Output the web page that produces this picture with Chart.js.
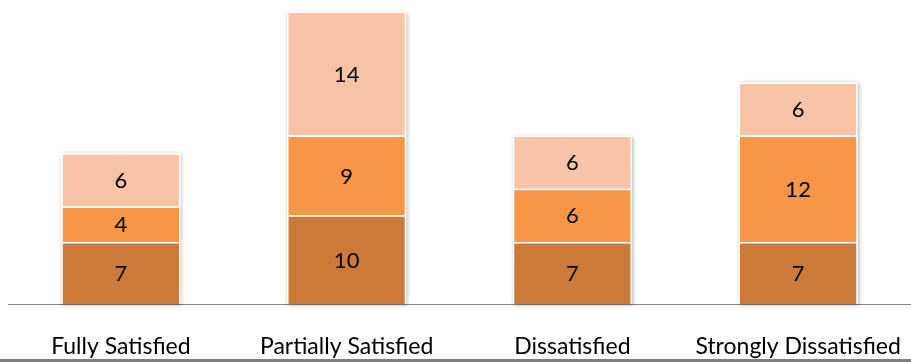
<!DOCTYPE html>
<html>
<head>
<meta charset="utf-8">
<script src="https://cdn.jsdelivr.net/npm/chart.js@4"></script>
<style>
  body { margin: 0; background: #fff; }
  #wrap { width: 911px; height: 359px; border-bottom: 3px solid #7f7f7f; }
</style>
</head>
<body>
<div id="wrap"><canvas id="stackChart" width="911" height="359"></canvas></div>
<script>
var categories = ['Fully Satisfied', 'Partially Satisfied', 'Dissatisfied', 'Strongly Dissatisfied'];
var lowerValues = [7, 10, 7, 7];
var middleValues = [4, 9, 6, 12];
var upperValues = [6, 14, 6, 6];

// white backing with soft shadow behind each full stack
var stackShadow = {
    id: 'stackShadow',
    beforeDatasetsDraw: function (chart) {
        var ctx = chart.ctx;
        var first = chart.getDatasetMeta(0).data;
        var last = chart.getDatasetMeta(chart.data.datasets.length - 1).data;
        ctx.save();
        ctx.fillStyle = '#fff';
        ctx.shadowColor = 'rgba(0,0,0,0.3)';
        ctx.shadowBlur = 4;
        ctx.shadowOffsetX = 1;
        ctx.shadowOffsetY = 1;
        first.forEach(function (bar, i) {
            var top = last[i];
            var w = bar.width;
            ctx.fillRect(bar.x - w / 2, top.y, w, bar.base - top.y);
        });
        ctx.restore();
    }
};

// value text in the middle of each segment
var segmentLabels = {
    id: 'segmentLabels',
    afterDatasetsDraw: function (chart) {
        var ctx = chart.ctx;
        ctx.save();
        ctx.font = '22px Lato';
        ctx.fillStyle = '#000';
        ctx.textAlign = 'center';
        ctx.textBaseline = 'middle';
        chart.data.datasets.forEach(function (ds, d) {
            chart.getDatasetMeta(d).data.forEach(function (bar, i) {
                ctx.fillText(ds.data[i], bar.x, (bar.y + bar.base) / 2 + 1);
            });
        });
        ctx.restore();
    }
};

var ctx = document.getElementById('stackChart').getContext('2d');
var chart = new Chart(ctx, {
    type: 'bar',
    data: {
        labels: categories,
        datasets: [{
            data: lowerValues,
            backgroundColor: '#cb7a39',
            borderColor: '#fff',
            borderWidth: 1.5
        }, {
            data: middleValues,
            backgroundColor: '#f79646',
            borderColor: '#fff',
            borderWidth: 1.5
        }, {
            data: upperValues,
            backgroundColor: '#f9c3a8',
            borderColor: '#fff',
            borderWidth: 1.5
        }]
    },
    options: {
        responsive: false,
        animation: false,
        layout: { padding: { left: 8, right: 0, top: 0, bottom: 0 } },
        datasets: { bar: { categoryPercentage: 1, barPercentage: 0.528 } },
        plugins: { legend: { display: false }, tooltip: { enabled: false } },
        scales: {
            x: {
                stacked: true,
                grid: { display: false, drawTicks: false },
                border: { display: true, color: '#868686', width: 1 },
                ticks: { color: '#000', padding: 29, maxRotation: 0, font: { family: 'Lato', size: 23 } },
                afterFit: function (scale) {
                    scale.height = 55;
                    // keep the axis running to the right edge
                    scale.paddingRight = 0;
                    scale.paddingLeft = 0;
                }
            },
            y: {
                stacked: true,
                display: false,
                min: 0,
                max: 34.3
            }
        }
    },
    plugins: [stackShadow, segmentLabels]
});
</script>
</body>
</html>
